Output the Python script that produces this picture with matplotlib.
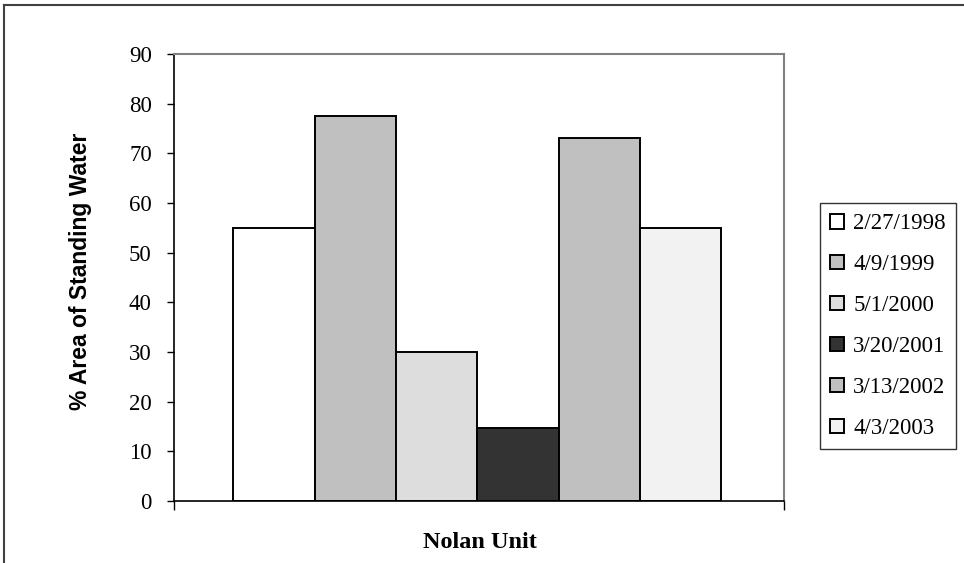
import matplotlib
matplotlib.use("Agg")
import matplotlib.pyplot as plt
from matplotlib.lines import Line2D
import numpy as np

dates = ["2/27/1998", "4/9/1999", "5/1/2000", "3/20/2001", "3/13/2002", "4/3/2003"]
values = [55.0, 77.6, 30.0, 14.6, 73.0, 55.0]
colors = ["#FFFFFF", "#C0C0C0", "#DDDDDD", "#333333", "#C0C0C0", "#F2F2F2"]
category = "Nolan Unit"
yticks = [0, 10, 20, 30, 40, 50, 60, 70, 80, 90]

fig = plt.figure(figsize=(9.64, 5.63), dpi=100)
W, H = 964, 563
ax = fig.add_axes([174 / W, 1 - 501 / H, (784 - 174) / W, (501 - 54) / H])

n = len(values)
bw = 0.8 / n
offsets = (np.arange(n) - (n - 1) / 2) * bw - 0.003
for i, (d, v, c) in enumerate(zip(dates, values, colors)):
    ax.bar(offsets[i], v, width=bw, color=c, edgecolor="black", linewidth=1.4, label=d)

ax.set_xlim(-0.5, 0.5)
ax.set_ylim(0, 90)
ax.set_yticks(yticks)
ax.set_yticklabels([str(t) for t in yticks], family="Liberation Serif", fontsize=16.5)
ax.set_xticks([-0.5, 0.5])
ax.set_xticklabels(["", ""])
ax.tick_params(axis="y", direction="out", length=5, width=1, pad=11)
ax.tick_params(axis="x", direction="out", length=6.5, width=1)
for s in ["left", "bottom"]:
    ax.spines[s].set_color("black")
    ax.spines[s].set_linewidth(1.2)
for s in ["top", "right"]:
    ax.spines[s].set_color("#808080")
    ax.spines[s].set_linewidth(1.5)

fig.text(81 / W, 1 - 271 / H, "% Area of Standing Water", family="Liberation Sans",
         fontweight="bold", fontsize=16.5, rotation=90, ha="center", va="center")
fig.text(480 / W, 1 - 542 / H, category, family="Liberation Serif", fontweight="bold",
         fontsize=17.5, ha="center", va="center")

leg = fig.legend(loc="upper left", bbox_to_anchor=(820 / W, 1 - 203 / H),
                 prop={"family": "Liberation Serif", "size": 16.5},
                 frameon=True, fancybox=False, handlelength=0.6, handleheight=0.6,
                 handletextpad=0.4, labelspacing=0.87, borderpad=0.45, borderaxespad=0)
leg.get_frame().set_edgecolor("black")
leg.get_frame().set_linewidth(1.0)

fig.add_artist(Line2D([4 / W, 1], [1 - 5 / H, 1 - 5 / H], transform=fig.transFigure,
                      color="#404040", linewidth=1.5))
fig.add_artist(Line2D([4 / W, 4 / W], [0, 1 - 5 / H], transform=fig.transFigure,
                      color="#404040", linewidth=1.5))

fig.savefig("out.png", dpi=100)
